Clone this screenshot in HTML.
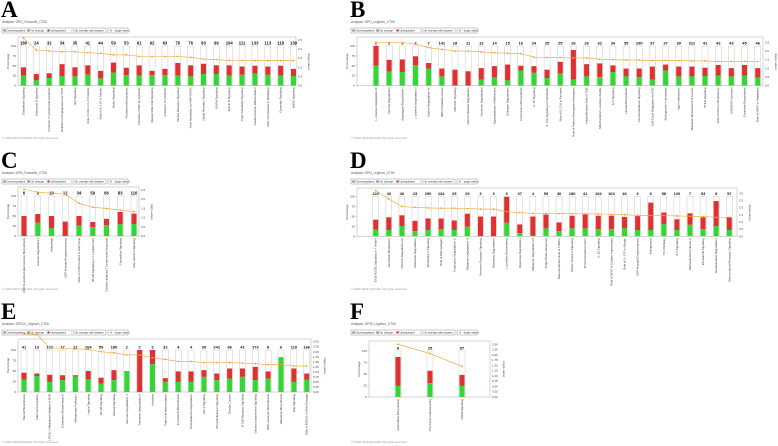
<!DOCTYPE html>
<html><head><meta charset="utf-8"><style>
html,body{margin:0;padding:0;background:#fff;}
svg{display:block;font-family:"Liberation Sans",sans-serif;}
</style></head><body>
<svg id="fig" width="778" height="446" viewBox="0 0 778 446" xmlns="http://www.w3.org/2000/svg"></svg>
<script>
// ---- Panel A data ----
const aCounts=[180,24,32,34,35,41,44,59,53,61,62,63,70,76,93,99,104,111,133,113,118,139];
const aUp=[46,29,31,54,46,51,37,58,45,51,37,42,57,51,55,51,51,48,50,48,50,42];
const aDown=[25,13,19,24,23,28,18,33,26,25,26,26,25,23,29,29,25,27,30,27,25,24];
const aLogp=[2.6,1.95,1.9,1.85,1.85,1.8,1.77,1.68,1.68,1.6,1.6,1.6,1.6,1.55,1.45,1.42,1.38,1.38,1.37,1.37,1.37,1.37];
const aNames=["Glutathione Signaling","Granzyme B Signaling","Cytotoxic T Lymphocyte Apoptosis","Inhibition of Angiogenesis by TSP1","Wnt Signaling","Role of JAK in IL-6 Cytokine","Role of IL-17A in Arthritis","Netrin Signaling","Prostanoid Biosynthesis","Activation of IRF by Cytosolic","Natural Killer Cell Signaling","Activation of LXR/RXR","Toll-like Receptor Signaling","Actin Nucleation by ARP-WASP","Death Receptor Signaling","GNRH Signaling","Ephrin B Signaling","Type II Diabetes Signaling","Cardiomyocyte Differentiation","Role of Cytokines in Mediating","Ceramide Signaling","eNOS Signaling"];
// ---- Panel B data ----
const bCounts=[2,3,5,4,7,141,18,11,13,14,15,16,24,25,25,26,26,32,34,35,290,37,37,39,311,41,43,43,45,46];
const bUp=[100,65,66,74,57,43,40,36,44,49,53,50,49,40,60,90,54,56,51,43,43,48,53,48,48,45,52,44,52,44];
const bDown=[50,35,34,51,43,23,0,0,15,20,13,38,32,19,30,15,23,21,34,23,21,15,38,23,23,24,25,23,25,20];
const bLogp=[2.5,2.5,2.5,2.4,2.2,2.1,2.0,2.0,1.95,1.9,1.88,1.85,1.65,1.62,1.62,1.6,1.6,1.53,1.5,1.48,1.48,1.45,1.45,1.45,1.43,1.43,1.4,1.4,1.4,1.38];
const bNames=["L-cysteine Degradation III","Glycine Degradation","Asparagine Biosynthesis I","L-cysteine Degradation I","Taurine Degradation IV","NRF2 Oxidative Stress","GM-CSF Signaling","Glycine Betaine Degradation","Serotonin Degradation","Superpathway of Methionine","Estrogen Degradation","Coenzyme A Biosynthesis","IL-15 Signaling","IL-17A Signaling in Fibroblasts","Role of IL-17A in Psoriasis","Role of Pattern Recognition Receptors","Antiproliferative Role of TOB","Mitochondrial L-carnitine Shuttle","IL-9 Signaling","Lipoate Biosynthesis","Axonal Guidance Signaling","Cell Cycle Regulation by BTG","Sphingosine-1-phosphate","Agrin Interactions","Molecular Mechanisms of Cancer","PTEN Signaling","Role of Oct4 in Pluripotency","VDR/RXR Activation","Ceramide Biosynthesis","Role of NFAT in Regulation"];
// ---- Panel C data ----
const cCounts=[6,9,19,12,34,59,66,83,110];
const cUp=[50,55,50,36,50,35,43,60,56];
const cDown=[0,33,20,0,26,22,27,30,30];
const cLogp=[2.54,2.38,2.32,2.27,1.78,1.56,1.5,1.41,1.32];
const cNames=["UDP-N-acetyl-D-glucosamine Biosynthesis","Leucine Degradation I","Autophagy","UDP-N-acetyl-D-galactosamine","Role of CHK Proteins in Cell Cycle","NF-kB Signaling in T Lymphocytes","Calcium-induced T Lymphocyte Apoptosis","Chemokine Signaling","Gap Junction Signaling"];
// ---- Panel D data ----
const dCounts=[222,43,46,23,290,134,25,25,3,3,3,37,4,59,40,180,41,104,103,46,6,6,58,120,7,53,8,57];
const dUp=[42,48,53,39,45,45,40,57,50,50,100,30,50,55,35,52,55,52,52,49,51,85,60,43,58,48,89,48];
const dDown=[17,16,26,13,16,18,16,24,0,0,34,8,2,20,13,20,20,18,18,20,16,16,31,16,29,18,26,16];
const dLogp=[3.2,2.6,2.07,2.02,1.98,1.96,1.96,1.94,1.9,1.9,1.72,1.65,1.6,1.6,1.58,1.58,1.56,1.56,1.53,1.5,1.47,1.44,1.44,1.42,1.4,1.38,1.33,1.33];
const dNames=["iCOS-iCOSL Signaling in T Helper","Xenobiotic Metabolism","Nicotine Degradation III","Histamine Degradation","Endothelin-1 Signaling","Role of Macrophages","Tryptophan Degradation X","Melatonin Degradation II","Serotonin Receptor Signaling","Dopamine Degradation","L-carnitine Biosynthesis","Dopamine Degradation","Melatonin Degradation III","Acute Phase Response","Neuroprotective Role of THOP1","Protein Kinase A Signaling","B Cell Activating Factor","IL-10 Signaling","Role of NFAT in Cardiac Hypertrophy","Role of IL-17F in Allergic","UDP-N-acetyl-D-glucosamine","Ketogenesis","Th1 Pathway","IL-6 Signaling","Retinoate Biosynthesis II","Eicosanoid Signaling","Noradrenaline Degradation","Glucocorticoid Receptor Signaling"];
// ---- Panel E data ----
const eCounts=[41,13,122,17,17,104,59,180,2,2,3,32,4,4,39,241,96,41,173,8,6,110,166];
const eUp=[46,44,41,40,40,50,34,52,50,100,100,33,49,49,52,44,56,56,60,49,83,56,44];
const eDown=[29,38,24,28,37,30,20,28,50,0,66,25,24,24,36,28,32,36,28,32,83,24,29];
const eLogp=[2.9,2.86,2.2,2.17,2.15,2.12,2.0,1.95,1.84,1.84,1.7,1.62,1.52,1.52,1.46,1.46,1.46,1.44,1.41,1.36,1.36,1.29,1.29];
const eNames=["Steroid Biosynthesis","Fatty Acid Activation","LPS/IL-1 Mediated Inhibition of RXR","Cholesterol Biosynthesis II","Mevalonate Pathway I","Leptin Signaling","NF-kB Signaling","Glioma Signaling","Sucrose Degradation V","Trehalose Degradation II","Ketolysis","Fatty Acid beta-oxidation","Zymosterol Biosynthesis","Phenylalanine Degradation","IGF-1 Signaling","Phospholipase C Signaling","Ovarian Cancer","B Cell Receptor Signaling","Glioma Invasiveness Signaling","GDP-mannose Biosynthesis","Glutamine Biosynthesis","Gap Signaling","Role of BRCA1 in DNA Damage"];
// ---- Panel F data ----
const fCounts=[8,25,87];
const fUp=[87,57,48];
const fDown=[24,30,24];
const fLogp=[2.5,2.06,1.45];
const fNames=["Spermidine Biosynthesis","TCA Cycle II (Eukaryotic)","PPAR Signaling"];

const NS="http://www.w3.org/2000/svg";
const svg=document.getElementById('fig');
function mk(tag,attrs,parent,txt){const e=document.createElementNS(NS,tag);for(const k in attrs)e.setAttribute(k,attrs[k]);if(txt!==undefined)e.textContent=txt;(parent||svg).appendChild(e);return e;}

function panel(cfg,counts,up,down,logp,names){
  const g=mk('g',{});
  
  
  const L=mk('text',{x:cfg.lx,y:cfg.ly,'font-family':'Liberation Serif,serif','font-weight':'bold','font-size':23,fill:'#000'},g,cfg.id);
  
  
  const an=mk('text',{x:cfg.lx+1,y:cfg.ly+6,'font-size':3.2,fill:'#555'},g,cfg.analysis);
  
  
  const lg=mk('g',{},g);
  
  
  const ly=cfg.ly+11;
  mk('rect',{x:cfg.lx+1,y:ly,width:104,height:5,fill:'#fff',stroke:'#777','stroke-width':0.4},lg);
  const items=[['#33d633','Downregulated'],['#888','No change'],['#e03030','Upregulated'],['#fff','No overlap with dataset']];
  let xx=cfg.lx+2.5;
  items.forEach((it,i)=>{mk('rect',{x:xx,y:ly+1.5,width:2,height:2,fill:it[0],stroke:'#666','stroke-width':0.2},lg);
    const t=mk('text',{x:xx+3,y:ly+3.6,'font-size':2.8,fill:'#333'},lg,it[1]);
    
    
    xx+=[24,20,24,34][i];});
  mk('rect',{x:cfg.lx+107,y:ly,width:20,height:5,fill:'#fff',stroke:'#777','stroke-width':0.4},lg);
  mk('circle',{cx:cfg.lx+110,cy:ly+2.5,r:1,fill:'#f0a030'},lg);
  mk('text',{x:cfg.lx+113,y:ly+3.6,'font-size':2.8,fill:'#333'},lg,'-log(p-value)');
  const {x0,x1,yTop,y0,y100,rTopY,rMax,rStep}=cfg;
  mk('rect',{x:x0,y:yTop,width:x1-x0,height:y0-yTop,fill:'#fff',stroke:'#aaa','stroke-width':0.5},g);
  const yP=v=>y0-(y0-y100)*v/100;
  const yR=v=>y0-(y0-rTopY)*v/rMax;
  const n=counts.length;
  const step=(cfg.lastX-cfg.firstX)/Math.max(1,n-1);
  const xB=i=>cfg.firstX+i*step;
  [0,25,50,75,100].forEach(v=>{const t=mk('text',{x:x0-2,y:yP(v)+1,'font-size':3,fill:'#444','text-anchor':'end'},g,String(v));
    
    
    mk('line',{x1:x0-1,x2:x0,y1:yP(v),y2:yP(v),stroke:'#888','stroke-width':0.3},g);});
  const yt=mk('text',{x:x0-9,y:(yTop+y0)/2,'font-size':3,fill:'#444','text-anchor':'middle',transform:`rotate(-90 ${x0-9} ${(yTop+y0)/2})`},g,'Percentage');
  
  
  for(let v=0;v<=rMax+1e-9;v+=rStep){const t=mk('text',{x:x1+2,y:yR(v)+1,'font-size':3,fill:'#444'},g,v.toFixed(cfg.dec));
    
    }
  const rt=mk('text',{x:x1+cfg.rTitleOff,y:(yTop+y0)/2,'font-size':3,fill:'#444','text-anchor':'middle',transform:`rotate(90 ${x1+cfg.rTitleOff} ${(yTop+y0)/2})`},g,'-log(p-value)');
  
  
  const bw=cfg.bw;
  for(let i=0;i<n;i++){
    const bx=xB(i);
    mk('rect',{x:bx-bw/2-0.5,y:yP(100),width:bw+1,height:y0-yP(100),fill:'#fff',stroke:'#bbb','stroke-width':0.4},g);
    const r=mk('rect',{x:bx-bw/2,y:yP(up[i]),width:bw,height:yP(down[i])-yP(up[i]),fill:'#e03030'},g);
    
    
    const gr=mk('rect',{x:bx-bw/2,y:yP(down[i]),width:bw,height:y0-yP(down[i]),fill:'#33d633'},g);
    
    
    const c=mk('text',{x:bx,y:yP(100)-1.5,'font-size':cfg.cfs,'font-weight':'bold',fill:'#111','text-anchor':'middle'},g,String(counts[i]));
    
    
    const lx=bx+1,lyy=y0+2;
    const nm=mk('text',{x:lx,y:lyy,'font-size':2.9,fill:'#333','text-anchor':'end',transform:`rotate(-90 ${lx} ${lyy})`},g,names[i]);
    
    
  }
  let d='';
  for(let i=0;i<n;i++)d+=(i?'L':'M')+xB(i).toFixed(2)+' '+yR(logp[i]).toFixed(2);
  const ln=mk('path',{d,fill:'none',stroke:'#f0a030','stroke-width':0.6},g);
  
  
  for(let i=0;i<n;i++){const p=mk('circle',{cx:xB(i),cy:yR(logp[i]),r:0.9,fill:'#f0a030'},g);
    
    }
  const cp=mk('text',{x:cfg.lx+1,y:cfg.copyY,'font-size':3,fill:'#999'},g,'© 2000-2018 QIAGEN. All rights reserved.');
  
  
}
panel({id:'A',lx:1,ly:17,analysis:'Analysis: DPO_Foxworth_CT06',x0:18,x1:296,yTop:37,y0:85.5,y100:46,rTopY:40,rMax:2.5,rStep:0.5,dec:1,rTitleOff:12,firstX:23.5,lastX:293.5,bw:5,cfs:4.2,copyY:139},aCounts,aUp,aDown,aLogp,aNames);
panel({id:'B',lx:350,ly:17,analysis:'Analysis: DPO_Leghorn_CT06',x0:357,x1:763,yTop:37,y0:85.5,y100:46,rTopY:42.5,rMax:2.5,rStep:0.5,dec:1,rTitleOff:12,firstX:376,lastX:757.7,bw:5,cfs:4,copyY:139},bCounts,bUp,bDown,bLogp,bNames);
panel({id:'C',lx:1,ly:168,analysis:'Analysis: DPN_Foxworth_CT06',x0:18,x1:139,yTop:187,y0:236,y100:196,rTopY:190,rMax:2.5,rStep:0.5,dec:1,rTitleOff:12,firstX:24,lastX:134,bw:5,cfs:4.2,copyY:290},cCounts,cUp,cDown,cLogp,cNames);
panel({id:'D',lx:350,ly:168,analysis:'Analysis: DPN_Leghorn_CT06',x0:357,x1:737,yTop:188,y0:236.3,y100:196.7,rTopY:193.3,rMax:3.0,rStep:0.5,dec:1,rTitleOff:12,firstX:375.7,lastX:729.3,bw:5,cfs:4,copyY:290},dCounts,dUp,dDown,dLogp,dNames);
panel({id:'E',lx:1,ly:319,analysis:'Analysis: DPD10_Leghorn_CT06',x0:18,x1:311,yTop:339,y0:392,y100:350,rTopY:341.7,rMax:2.5,rStep:0.25,dec:2,rTitleOff:13,firstX:24,lastX:306.7,bw:5,cfs:4,copyY:443},eCounts,eUp,eDown,eLogp,eNames);
panel({id:'F',lx:350,ly:319,analysis:'Analysis: DP30_Leghorn_CT06',x0:369,x1:490,yTop:341,y0:397,y100:351,rTopY:344.3,rMax:2.5,rStep:0.25,dec:2,rTitleOff:13,firstX:398,lastX:462,bw:5,cfs:4,copyY:443},fCounts,fUp,fDown,fLogp,fNames);
</script>
</body></html>
